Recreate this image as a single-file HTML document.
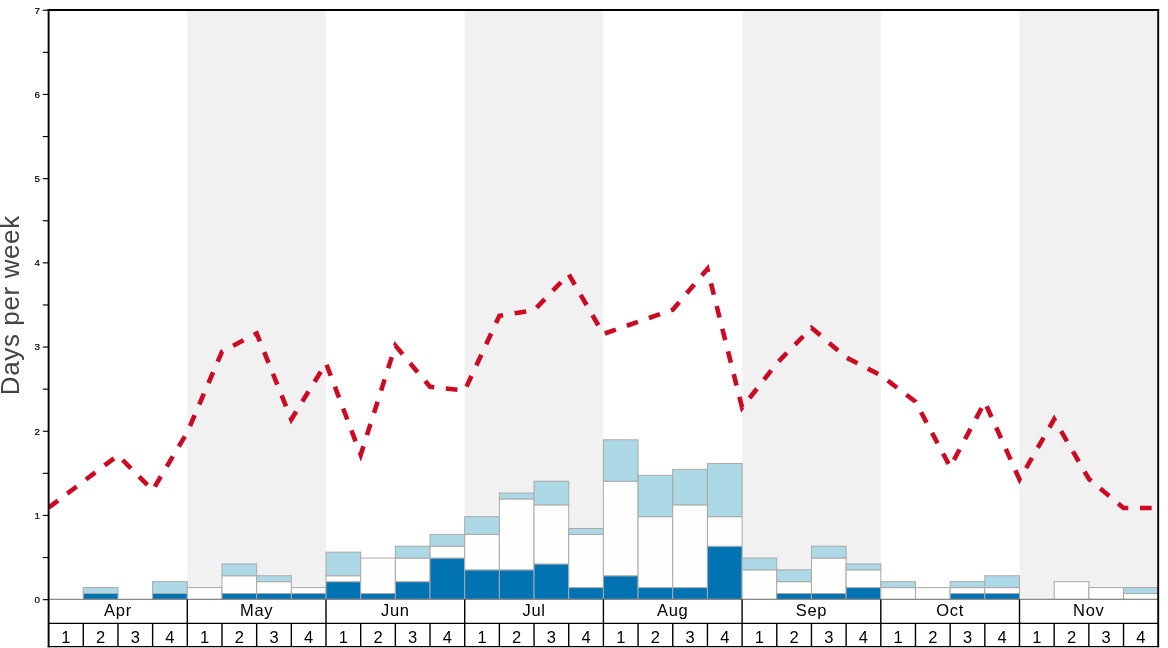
<!DOCTYPE html><html><head><meta charset="utf-8"><title>chart</title><style>html,body{margin:0;padding:0;background:#fff;}svg{display:block;will-change:transform}text{font-family:"Liberation Sans",sans-serif;}</style></head><body>
<svg width="1168" height="648" viewBox="0 0 1168 648">
<rect x="0" y="0" width="1168" height="648" fill="#ffffff"/>
<rect x="187.30" y="10.0" width="138.70" height="589.40" fill="#f1f1f1"/>
<rect x="464.70" y="10.0" width="138.70" height="589.40" fill="#f1f1f1"/>
<rect x="742.10" y="10.0" width="138.70" height="589.40" fill="#f1f1f1"/>
<rect x="1019.50" y="10.0" width="138.70" height="589.40" fill="#f1f1f1"/>
<rect x="83.28" y="593.49" width="34.68" height="5.91" fill="#0173b2" stroke="#a9a9a9" stroke-width="1"/>
<rect x="83.28" y="587.58" width="34.68" height="5.91" fill="#add8e6" stroke="#a9a9a9" stroke-width="1"/>
<rect x="152.62" y="593.49" width="34.68" height="5.91" fill="#0173b2" stroke="#a9a9a9" stroke-width="1"/>
<rect x="152.62" y="581.67" width="34.68" height="11.82" fill="#add8e6" stroke="#a9a9a9" stroke-width="1"/>
<rect x="187.30" y="587.58" width="34.68" height="11.82" fill="#fefefd" stroke="#a9a9a9" stroke-width="1"/>
<rect x="221.98" y="593.49" width="34.68" height="5.91" fill="#0173b2" stroke="#a9a9a9" stroke-width="1"/>
<rect x="221.98" y="575.76" width="34.68" height="17.73" fill="#fefefd" stroke="#a9a9a9" stroke-width="1"/>
<rect x="221.98" y="563.94" width="34.68" height="11.82" fill="#add8e6" stroke="#a9a9a9" stroke-width="1"/>
<rect x="256.65" y="593.49" width="34.68" height="5.91" fill="#0173b2" stroke="#a9a9a9" stroke-width="1"/>
<rect x="256.65" y="581.67" width="34.68" height="11.82" fill="#fefefd" stroke="#a9a9a9" stroke-width="1"/>
<rect x="256.65" y="575.76" width="34.68" height="5.91" fill="#add8e6" stroke="#a9a9a9" stroke-width="1"/>
<rect x="291.33" y="593.49" width="34.68" height="5.91" fill="#0173b2" stroke="#a9a9a9" stroke-width="1"/>
<rect x="291.33" y="587.58" width="34.68" height="5.91" fill="#fefefd" stroke="#a9a9a9" stroke-width="1"/>
<rect x="326.00" y="581.67" width="34.68" height="17.73" fill="#0173b2" stroke="#a9a9a9" stroke-width="1"/>
<rect x="326.00" y="575.76" width="34.68" height="5.91" fill="#fefefd" stroke="#a9a9a9" stroke-width="1"/>
<rect x="326.00" y="552.12" width="34.68" height="23.64" fill="#add8e6" stroke="#a9a9a9" stroke-width="1"/>
<rect x="360.68" y="593.49" width="34.68" height="5.91" fill="#0173b2" stroke="#a9a9a9" stroke-width="1"/>
<rect x="360.68" y="558.03" width="34.68" height="35.46" fill="#fefefd" stroke="#a9a9a9" stroke-width="1"/>
<rect x="395.35" y="581.67" width="34.68" height="17.73" fill="#0173b2" stroke="#a9a9a9" stroke-width="1"/>
<rect x="395.35" y="558.03" width="34.68" height="23.64" fill="#fefefd" stroke="#a9a9a9" stroke-width="1"/>
<rect x="395.35" y="546.21" width="34.68" height="11.82" fill="#add8e6" stroke="#a9a9a9" stroke-width="1"/>
<rect x="430.03" y="558.03" width="34.68" height="41.37" fill="#0173b2" stroke="#a9a9a9" stroke-width="1"/>
<rect x="430.03" y="546.21" width="34.68" height="11.82" fill="#fefefd" stroke="#a9a9a9" stroke-width="1"/>
<rect x="430.03" y="534.39" width="34.68" height="11.82" fill="#add8e6" stroke="#a9a9a9" stroke-width="1"/>
<rect x="464.70" y="569.85" width="34.68" height="29.55" fill="#0173b2" stroke="#a9a9a9" stroke-width="1"/>
<rect x="464.70" y="534.39" width="34.68" height="35.46" fill="#fefefd" stroke="#a9a9a9" stroke-width="1"/>
<rect x="464.70" y="516.66" width="34.68" height="17.73" fill="#add8e6" stroke="#a9a9a9" stroke-width="1"/>
<rect x="499.38" y="569.85" width="34.68" height="29.55" fill="#0173b2" stroke="#a9a9a9" stroke-width="1"/>
<rect x="499.38" y="498.93" width="34.68" height="70.92" fill="#fefefd" stroke="#a9a9a9" stroke-width="1"/>
<rect x="499.38" y="493.02" width="34.68" height="5.91" fill="#add8e6" stroke="#a9a9a9" stroke-width="1"/>
<rect x="534.05" y="563.94" width="34.68" height="35.46" fill="#0173b2" stroke="#a9a9a9" stroke-width="1"/>
<rect x="534.05" y="504.84" width="34.68" height="59.10" fill="#fefefd" stroke="#a9a9a9" stroke-width="1"/>
<rect x="534.05" y="481.20" width="34.68" height="23.64" fill="#add8e6" stroke="#a9a9a9" stroke-width="1"/>
<rect x="568.73" y="587.58" width="34.68" height="11.82" fill="#0173b2" stroke="#a9a9a9" stroke-width="1"/>
<rect x="568.73" y="534.39" width="34.68" height="53.19" fill="#fefefd" stroke="#a9a9a9" stroke-width="1"/>
<rect x="568.73" y="528.48" width="34.68" height="5.91" fill="#add8e6" stroke="#a9a9a9" stroke-width="1"/>
<rect x="603.40" y="575.76" width="34.68" height="23.64" fill="#0173b2" stroke="#a9a9a9" stroke-width="1"/>
<rect x="603.40" y="481.20" width="34.68" height="94.56" fill="#fefefd" stroke="#a9a9a9" stroke-width="1"/>
<rect x="603.40" y="439.83" width="34.68" height="41.37" fill="#add8e6" stroke="#a9a9a9" stroke-width="1"/>
<rect x="638.08" y="587.58" width="34.68" height="11.82" fill="#0173b2" stroke="#a9a9a9" stroke-width="1"/>
<rect x="638.08" y="516.66" width="34.68" height="70.92" fill="#fefefd" stroke="#a9a9a9" stroke-width="1"/>
<rect x="638.08" y="475.29" width="34.68" height="41.37" fill="#add8e6" stroke="#a9a9a9" stroke-width="1"/>
<rect x="672.75" y="587.58" width="34.68" height="11.82" fill="#0173b2" stroke="#a9a9a9" stroke-width="1"/>
<rect x="672.75" y="504.84" width="34.68" height="82.74" fill="#fefefd" stroke="#a9a9a9" stroke-width="1"/>
<rect x="672.75" y="469.38" width="34.68" height="35.46" fill="#add8e6" stroke="#a9a9a9" stroke-width="1"/>
<rect x="707.43" y="546.21" width="34.68" height="53.19" fill="#0173b2" stroke="#a9a9a9" stroke-width="1"/>
<rect x="707.43" y="516.66" width="34.68" height="29.55" fill="#fefefd" stroke="#a9a9a9" stroke-width="1"/>
<rect x="707.43" y="463.47" width="34.68" height="53.19" fill="#add8e6" stroke="#a9a9a9" stroke-width="1"/>
<rect x="742.10" y="569.85" width="34.68" height="29.55" fill="#fefefd" stroke="#a9a9a9" stroke-width="1"/>
<rect x="742.10" y="558.03" width="34.68" height="11.82" fill="#add8e6" stroke="#a9a9a9" stroke-width="1"/>
<rect x="776.78" y="593.49" width="34.68" height="5.91" fill="#0173b2" stroke="#a9a9a9" stroke-width="1"/>
<rect x="776.78" y="581.67" width="34.68" height="11.82" fill="#fefefd" stroke="#a9a9a9" stroke-width="1"/>
<rect x="776.78" y="569.85" width="34.68" height="11.82" fill="#add8e6" stroke="#a9a9a9" stroke-width="1"/>
<rect x="811.45" y="593.49" width="34.68" height="5.91" fill="#0173b2" stroke="#a9a9a9" stroke-width="1"/>
<rect x="811.45" y="558.03" width="34.68" height="35.46" fill="#fefefd" stroke="#a9a9a9" stroke-width="1"/>
<rect x="811.45" y="546.21" width="34.68" height="11.82" fill="#add8e6" stroke="#a9a9a9" stroke-width="1"/>
<rect x="846.13" y="587.58" width="34.68" height="11.82" fill="#0173b2" stroke="#a9a9a9" stroke-width="1"/>
<rect x="846.13" y="569.85" width="34.68" height="17.73" fill="#fefefd" stroke="#a9a9a9" stroke-width="1"/>
<rect x="846.13" y="563.94" width="34.68" height="5.91" fill="#add8e6" stroke="#a9a9a9" stroke-width="1"/>
<rect x="880.80" y="587.58" width="34.68" height="11.82" fill="#fefefd" stroke="#a9a9a9" stroke-width="1"/>
<rect x="880.80" y="581.67" width="34.68" height="5.91" fill="#add8e6" stroke="#a9a9a9" stroke-width="1"/>
<rect x="915.48" y="587.58" width="34.68" height="11.82" fill="#fefefd" stroke="#a9a9a9" stroke-width="1"/>
<rect x="950.15" y="593.49" width="34.68" height="5.91" fill="#0173b2" stroke="#a9a9a9" stroke-width="1"/>
<rect x="950.15" y="587.58" width="34.68" height="5.91" fill="#fefefd" stroke="#a9a9a9" stroke-width="1"/>
<rect x="950.15" y="581.67" width="34.68" height="5.91" fill="#add8e6" stroke="#a9a9a9" stroke-width="1"/>
<rect x="984.83" y="593.49" width="34.68" height="5.91" fill="#0173b2" stroke="#a9a9a9" stroke-width="1"/>
<rect x="984.83" y="587.58" width="34.68" height="5.91" fill="#fefefd" stroke="#a9a9a9" stroke-width="1"/>
<rect x="984.83" y="575.76" width="34.68" height="11.82" fill="#add8e6" stroke="#a9a9a9" stroke-width="1"/>
<rect x="1054.18" y="581.67" width="34.68" height="17.73" fill="#fefefd" stroke="#a9a9a9" stroke-width="1"/>
<rect x="1088.85" y="587.58" width="34.68" height="11.82" fill="#fefefd" stroke="#a9a9a9" stroke-width="1"/>
<rect x="1123.53" y="593.49" width="34.68" height="5.91" fill="#fefefd" stroke="#a9a9a9" stroke-width="1"/>
<rect x="1123.53" y="587.58" width="34.68" height="5.91" fill="#add8e6" stroke="#a9a9a9" stroke-width="1"/>
<line x1="48.6" y1="599.4" x2="1158.2" y2="599.4" stroke="#8a8a8a" stroke-width="1.1"/>
<polyline points="48.6,507.6 83.3,481.5 118.0,455.3 152.6,490.2 187.3,432.3 222.0,351.6 256.7,333.4 291.3,419.4 326.0,363.2 360.7,454.8 395.4,345.6 430.0,386.8 464.7,390.6 499.4,315.8 534.1,310.2 568.7,274.2 603.4,334.0 638.1,321.8 672.8,309.7 707.4,269.0 742.1,407.6 776.8,363.3 811.5,327.8 846.1,357.4 880.8,375.4 915.5,401.7 950.2,467.0 984.8,402.0 1019.5,479.5 1054.2,419.2 1088.9,479.0 1123.5,508.0 1158.2,508.0" fill="none" stroke="#cd0a24" stroke-width="4.6" stroke-dasharray="11.75 11.63" stroke-linejoin="miter" clip-path="url(#cp)"/>
<defs><clipPath id="cp"><rect x="48.6" y="10.0" width="1109.6000000000001" height="589.4"/></clipPath></defs>
<line x1="48.6" y1="623.4" x2="1158.2" y2="623.4" stroke="#000" stroke-width="1.4"/>
<line x1="47.7" y1="646.6" x2="1159.1000000000001" y2="646.6" stroke="#000" stroke-width="1.45"/>
<line x1="83.28" y1="623.4" x2="83.28" y2="646.6" stroke="#000" stroke-width="1.4"/>
<line x1="117.95" y1="623.4" x2="117.95" y2="646.6" stroke="#000" stroke-width="1.4"/>
<line x1="152.62" y1="623.4" x2="152.62" y2="646.6" stroke="#000" stroke-width="1.4"/>
<line x1="187.30" y1="599.4" x2="187.30" y2="646.6" stroke="#000" stroke-width="1.4"/>
<line x1="221.98" y1="623.4" x2="221.98" y2="646.6" stroke="#000" stroke-width="1.4"/>
<line x1="256.65" y1="623.4" x2="256.65" y2="646.6" stroke="#000" stroke-width="1.4"/>
<line x1="291.33" y1="623.4" x2="291.33" y2="646.6" stroke="#000" stroke-width="1.4"/>
<line x1="326.00" y1="599.4" x2="326.00" y2="646.6" stroke="#000" stroke-width="1.4"/>
<line x1="360.68" y1="623.4" x2="360.68" y2="646.6" stroke="#000" stroke-width="1.4"/>
<line x1="395.35" y1="623.4" x2="395.35" y2="646.6" stroke="#000" stroke-width="1.4"/>
<line x1="430.03" y1="623.4" x2="430.03" y2="646.6" stroke="#000" stroke-width="1.4"/>
<line x1="464.70" y1="599.4" x2="464.70" y2="646.6" stroke="#000" stroke-width="1.4"/>
<line x1="499.38" y1="623.4" x2="499.38" y2="646.6" stroke="#000" stroke-width="1.4"/>
<line x1="534.05" y1="623.4" x2="534.05" y2="646.6" stroke="#000" stroke-width="1.4"/>
<line x1="568.73" y1="623.4" x2="568.73" y2="646.6" stroke="#000" stroke-width="1.4"/>
<line x1="603.40" y1="599.4" x2="603.40" y2="646.6" stroke="#000" stroke-width="1.4"/>
<line x1="638.08" y1="623.4" x2="638.08" y2="646.6" stroke="#000" stroke-width="1.4"/>
<line x1="672.75" y1="623.4" x2="672.75" y2="646.6" stroke="#000" stroke-width="1.4"/>
<line x1="707.43" y1="623.4" x2="707.43" y2="646.6" stroke="#000" stroke-width="1.4"/>
<line x1="742.10" y1="599.4" x2="742.10" y2="646.6" stroke="#000" stroke-width="1.4"/>
<line x1="776.78" y1="623.4" x2="776.78" y2="646.6" stroke="#000" stroke-width="1.4"/>
<line x1="811.45" y1="623.4" x2="811.45" y2="646.6" stroke="#000" stroke-width="1.4"/>
<line x1="846.13" y1="623.4" x2="846.13" y2="646.6" stroke="#000" stroke-width="1.4"/>
<line x1="880.80" y1="599.4" x2="880.80" y2="646.6" stroke="#000" stroke-width="1.4"/>
<line x1="915.48" y1="623.4" x2="915.48" y2="646.6" stroke="#000" stroke-width="1.4"/>
<line x1="950.15" y1="623.4" x2="950.15" y2="646.6" stroke="#000" stroke-width="1.4"/>
<line x1="984.83" y1="623.4" x2="984.83" y2="646.6" stroke="#000" stroke-width="1.4"/>
<line x1="1019.50" y1="599.4" x2="1019.50" y2="646.6" stroke="#000" stroke-width="1.4"/>
<line x1="1054.18" y1="623.4" x2="1054.18" y2="646.6" stroke="#000" stroke-width="1.4"/>
<line x1="1088.85" y1="623.4" x2="1088.85" y2="646.6" stroke="#000" stroke-width="1.4"/>
<line x1="1123.53" y1="623.4" x2="1123.53" y2="646.6" stroke="#000" stroke-width="1.4"/>
<line x1="48.6" y1="9.0" x2="48.6" y2="647.3000000000001" stroke="#000" stroke-width="1.9"/>
<line x1="1158.2" y1="9.0" x2="1158.2" y2="647.3000000000001" stroke="#000" stroke-width="1.9"/>
<line x1="47.7" y1="10.0" x2="1159.1000000000001" y2="10.0" stroke="#000" stroke-width="1.9"/>
<line x1="42.800000000000004" y1="599.65" x2="48.6" y2="599.65" stroke="#000" stroke-width="1.15"/>
<text x="39.9" y="602.90" font-size="9.8" text-anchor="end" fill="#000" stroke="#000" stroke-width="0.2">0</text>
<line x1="42.800000000000004" y1="557.55" x2="48.6" y2="557.55" stroke="#000" stroke-width="1.15"/>
<line x1="42.800000000000004" y1="515.45" x2="48.6" y2="515.45" stroke="#000" stroke-width="1.15"/>
<text x="39.9" y="518.70" font-size="9.8" text-anchor="end" fill="#000" stroke="#000" stroke-width="0.2">1</text>
<line x1="42.800000000000004" y1="473.35" x2="48.6" y2="473.35" stroke="#000" stroke-width="1.15"/>
<line x1="42.800000000000004" y1="431.25" x2="48.6" y2="431.25" stroke="#000" stroke-width="1.15"/>
<text x="39.9" y="434.50" font-size="9.8" text-anchor="end" fill="#000" stroke="#000" stroke-width="0.2">2</text>
<line x1="42.800000000000004" y1="389.15" x2="48.6" y2="389.15" stroke="#000" stroke-width="1.15"/>
<line x1="42.800000000000004" y1="347.05" x2="48.6" y2="347.05" stroke="#000" stroke-width="1.15"/>
<text x="39.9" y="350.30" font-size="9.8" text-anchor="end" fill="#000" stroke="#000" stroke-width="0.2">3</text>
<line x1="42.800000000000004" y1="304.95" x2="48.6" y2="304.95" stroke="#000" stroke-width="1.15"/>
<line x1="42.800000000000004" y1="262.85" x2="48.6" y2="262.85" stroke="#000" stroke-width="1.15"/>
<text x="39.9" y="266.10" font-size="9.8" text-anchor="end" fill="#000" stroke="#000" stroke-width="0.2">4</text>
<line x1="42.800000000000004" y1="220.75" x2="48.6" y2="220.75" stroke="#000" stroke-width="1.15"/>
<line x1="42.800000000000004" y1="178.65" x2="48.6" y2="178.65" stroke="#000" stroke-width="1.15"/>
<text x="39.9" y="181.90" font-size="9.8" text-anchor="end" fill="#000" stroke="#000" stroke-width="0.2">5</text>
<line x1="42.800000000000004" y1="136.55" x2="48.6" y2="136.55" stroke="#000" stroke-width="1.15"/>
<line x1="42.800000000000004" y1="94.45" x2="48.6" y2="94.45" stroke="#000" stroke-width="1.15"/>
<text x="39.9" y="97.70" font-size="9.8" text-anchor="end" fill="#000" stroke="#000" stroke-width="0.2">6</text>
<line x1="42.800000000000004" y1="52.35" x2="48.6" y2="52.35" stroke="#000" stroke-width="1.15"/>
<line x1="42.800000000000004" y1="10.25" x2="48.6" y2="10.25" stroke="#000" stroke-width="1.15"/>
<text x="39.9" y="13.50" font-size="9.8" text-anchor="end" fill="#000" stroke="#000" stroke-width="0.2">7</text>
<text x="117.95" y="615.8" font-size="16.5" letter-spacing="0.7" text-anchor="middle" fill="#000">Apr</text>
<text x="256.65" y="615.8" font-size="16.5" letter-spacing="0.7" text-anchor="middle" fill="#000">May</text>
<text x="395.35" y="615.8" font-size="16.5" letter-spacing="0.7" text-anchor="middle" fill="#000">Jun</text>
<text x="534.05" y="615.8" font-size="16.5" letter-spacing="0.7" text-anchor="middle" fill="#000">Jul</text>
<text x="672.75" y="615.8" font-size="16.5" letter-spacing="0.7" text-anchor="middle" fill="#000">Aug</text>
<text x="811.45" y="615.8" font-size="16.5" letter-spacing="0.7" text-anchor="middle" fill="#000">Sep</text>
<text x="950.15" y="615.8" font-size="16.5" letter-spacing="0.7" text-anchor="middle" fill="#000">Oct</text>
<text x="1088.85" y="615.8" font-size="16.5" letter-spacing="0.7" text-anchor="middle" fill="#000">Nov</text>
<text x="65.94" y="642.8" font-size="16.5" text-anchor="middle" fill="#000">1</text>
<text x="100.61" y="642.8" font-size="16.5" text-anchor="middle" fill="#000">2</text>
<text x="135.29" y="642.8" font-size="16.5" text-anchor="middle" fill="#000">3</text>
<text x="169.96" y="642.8" font-size="16.5" text-anchor="middle" fill="#000">4</text>
<text x="204.64" y="642.8" font-size="16.5" text-anchor="middle" fill="#000">1</text>
<text x="239.31" y="642.8" font-size="16.5" text-anchor="middle" fill="#000">2</text>
<text x="273.99" y="642.8" font-size="16.5" text-anchor="middle" fill="#000">3</text>
<text x="308.66" y="642.8" font-size="16.5" text-anchor="middle" fill="#000">4</text>
<text x="343.34" y="642.8" font-size="16.5" text-anchor="middle" fill="#000">1</text>
<text x="378.01" y="642.8" font-size="16.5" text-anchor="middle" fill="#000">2</text>
<text x="412.69" y="642.8" font-size="16.5" text-anchor="middle" fill="#000">3</text>
<text x="447.36" y="642.8" font-size="16.5" text-anchor="middle" fill="#000">4</text>
<text x="482.04" y="642.8" font-size="16.5" text-anchor="middle" fill="#000">1</text>
<text x="516.71" y="642.8" font-size="16.5" text-anchor="middle" fill="#000">2</text>
<text x="551.39" y="642.8" font-size="16.5" text-anchor="middle" fill="#000">3</text>
<text x="586.06" y="642.8" font-size="16.5" text-anchor="middle" fill="#000">4</text>
<text x="620.74" y="642.8" font-size="16.5" text-anchor="middle" fill="#000">1</text>
<text x="655.41" y="642.8" font-size="16.5" text-anchor="middle" fill="#000">2</text>
<text x="690.09" y="642.8" font-size="16.5" text-anchor="middle" fill="#000">3</text>
<text x="724.76" y="642.8" font-size="16.5" text-anchor="middle" fill="#000">4</text>
<text x="759.44" y="642.8" font-size="16.5" text-anchor="middle" fill="#000">1</text>
<text x="794.11" y="642.8" font-size="16.5" text-anchor="middle" fill="#000">2</text>
<text x="828.79" y="642.8" font-size="16.5" text-anchor="middle" fill="#000">3</text>
<text x="863.46" y="642.8" font-size="16.5" text-anchor="middle" fill="#000">4</text>
<text x="898.14" y="642.8" font-size="16.5" text-anchor="middle" fill="#000">1</text>
<text x="932.81" y="642.8" font-size="16.5" text-anchor="middle" fill="#000">2</text>
<text x="967.49" y="642.8" font-size="16.5" text-anchor="middle" fill="#000">3</text>
<text x="1002.16" y="642.8" font-size="16.5" text-anchor="middle" fill="#000">4</text>
<text x="1036.84" y="642.8" font-size="16.5" text-anchor="middle" fill="#000">1</text>
<text x="1071.51" y="642.8" font-size="16.5" text-anchor="middle" fill="#000">2</text>
<text x="1106.19" y="642.8" font-size="16.5" text-anchor="middle" fill="#000">3</text>
<text x="1140.86" y="642.8" font-size="16.5" text-anchor="middle" fill="#000">4</text>
<g opacity="0.999"><text transform="translate(19.3,305.2) rotate(-90)" font-size="26" text-anchor="middle" fill="#444" letter-spacing="0.62">Days per week</text></g>
</svg></body></html>
